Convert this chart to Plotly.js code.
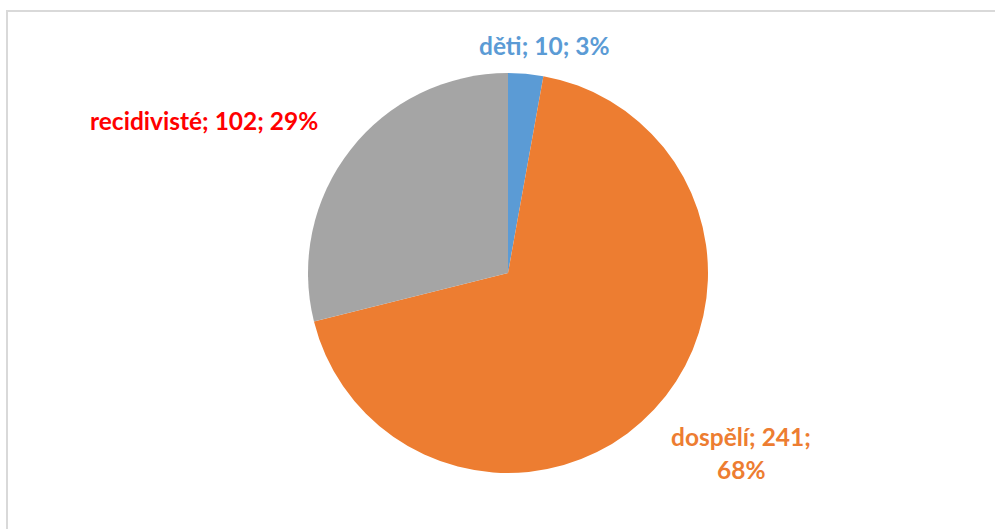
<!DOCTYPE html>
<html>
<head>
<meta charset="utf-8">
<script src="https://cdn.plot.ly/plotly-3.0.1.min.js"></script>
<style>html,body{margin:0;padding:0;background:#fff;}#chart{width:995px;height:529px;}</style>
</head>
<body>
<div id="chart"></div>
<script>
var categories = ["děti", "dospělí", "recidivisté"];
var values = [10, 241, 102];
var sliceColors = ["#5B9BD5", "#ED7D31", "#A5A5A5"];
var labelColors = ["#5B9BD5", "#ED7D31", "#FF0000"];

var W = 995, H = 529;
var total = values.reduce(function(a, b){ return a + b; }, 0);
function pct(v){ return Math.round(v / total * 100) + "%"; }

var trace = {
  type: "pie",
  labels: categories,
  values: values,
  sort: false,
  direction: "clockwise",
  rotation: 0,
  marker: {colors: sliceColors, line: {width: 0}},
  textinfo: "none",
  hoverinfo: "label+value+percent",
  domain: {x: [308 / W, 708 / W], y: [1 - 473 / H, 1 - 73 / H]},
  showlegend: false
};

var fontFamily = "Lato, 'Open Sans', sans-serif";
var fontSize = 24.5;
function ann(text, px, py, color){
  return {text: "<b>" + text + "</b>", x: px / W, y: 1 - py / H, xref: "paper", yref: "paper",
    showarrow: false, xanchor: "center", yanchor: "middle",
    font: {family: fontFamily, size: fontSize, color: color}};
}
var annotations = [
  ann(categories[0] + "; " + values[0] + "; " + pct(values[0]), 544, 46, labelColors[0]),
  ann(categories[1] + "; " + values[1] + ";", 741, 436, labelColors[1]),
  ann(pct(values[1]), 741, 469, labelColors[1]),
  ann(categories[2] + "; " + values[2] + "; " + pct(values[2]), 204, 121, labelColors[2])
];

var layout = {
  width: W, height: H,
  margin: {l: 0, r: 0, t: 0, b: 0},
  paper_bgcolor: "#ffffff",
  annotations: annotations,
  shapes: [{type: "rect", xref: "paper", yref: "paper",
    x0: 7 / W, x1: 1.02, y0: -0.02, y1: 1 - 11 / H,
    line: {color: "#D9D9D9", width: 2}, fillcolor: "rgba(0,0,0,0)"}]
};

Plotly.newPlot("chart", [trace], layout, {displayModeBar: false});
</script>
</body>
</html>
